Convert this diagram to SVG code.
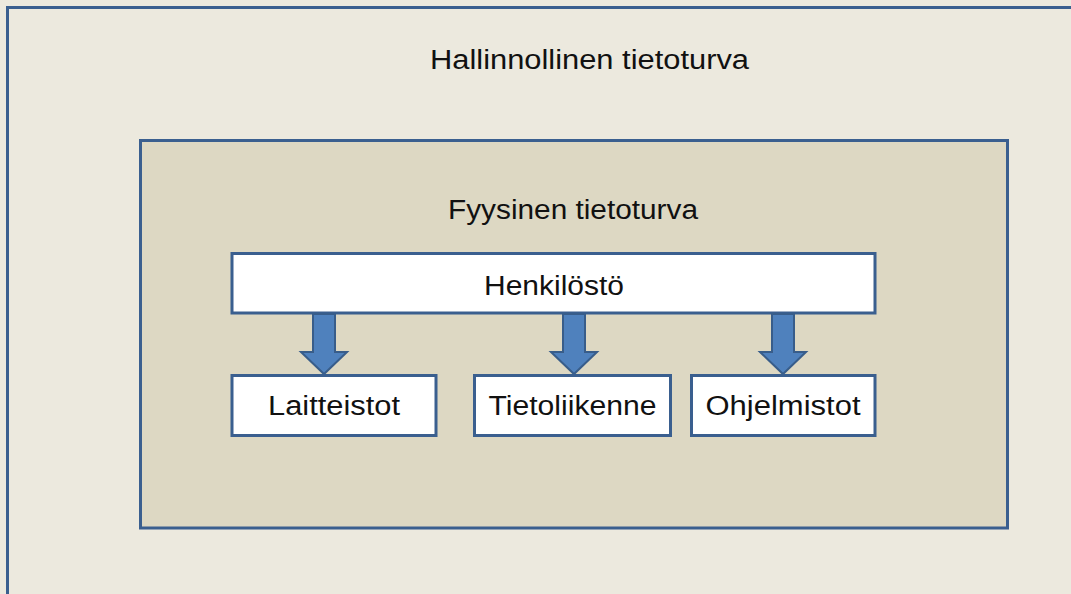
<svg xmlns="http://www.w3.org/2000/svg" width="1071" height="594" viewBox="0 0 1071 594">
  <style>
    .frame { stroke: #3A5F8F; stroke-width: 3; }
    .box { fill: #FFFFFF; stroke: #3A5F8F; stroke-width: 3; }
    .lbl { font-family: "Liberation Sans", Arial, sans-serif; fill: #111111; text-anchor: middle; }
    .arrow { fill: #4F81BD; stroke: #385D8A; stroke-width: 2; stroke-linejoin: miter; }
  </style>
  <defs>
    <!-- block arrow pointing down, tip at (0,0) offset by the use position -->
    <polygon id="downArrow" points="-11,0 11,0 11,38 23,38 0,60 -23,38 -11,38"/>
  </defs>

  <rect width="1071" height="594" fill="#ECE9DE"/>

  <g id="hallinnollinen">
    <rect class="frame" x="7.5" y="7.5" width="1080" height="600" fill="#ECE9DE"/>
    <text class="lbl" x="589.5" y="69" font-size="27" textLength="319" lengthAdjust="spacingAndGlyphs">Hallinnollinen tietoturva</text>
  </g>

  <g id="fyysinen">
    <rect class="frame" x="140.5" y="140.5" width="867" height="387.5" fill="#DDD8C3"/>
    <text class="lbl" x="573" y="218.5" font-size="27" textLength="250" lengthAdjust="spacingAndGlyphs">Fyysinen tietoturva</text>
  </g>

  <g id="henkilosto">
    <rect class="box" x="232" y="253.5" width="643" height="59.5"/>
    <text class="lbl" x="554" y="294.5" font-size="27" textLength="140" lengthAdjust="spacingAndGlyphs">Henkilöstö</text>
  </g>

  <g id="connectors">
    <use href="#downArrow" class="arrow" x="324" y="314"/>
    <use href="#downArrow" class="arrow" x="574" y="314"/>
    <use href="#downArrow" class="arrow" x="783" y="314"/>
  </g>

  <g id="laitteistot">
    <rect class="box" x="232" y="375.5" width="204" height="60"/>
    <text class="lbl" x="334" y="415" font-size="27" textLength="132" lengthAdjust="spacingAndGlyphs">Laitteistot</text>
  </g>

  <g id="tietoliikenne">
    <rect class="box" x="474.5" y="375.5" width="196" height="60"/>
    <text class="lbl" x="572.5" y="415" font-size="27" textLength="168" lengthAdjust="spacingAndGlyphs">Tietoliikenne</text>
  </g>

  <g id="ohjelmistot">
    <rect class="box" x="691.5" y="375.5" width="183.5" height="60"/>
    <text class="lbl" x="783" y="415" font-size="27" textLength="155" lengthAdjust="spacingAndGlyphs">Ohjelmistot</text>
  </g>
</svg>
